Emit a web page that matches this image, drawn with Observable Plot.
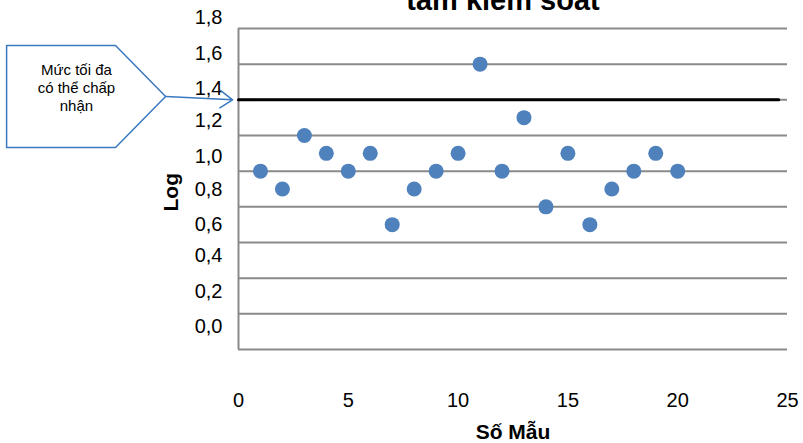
<!DOCTYPE html>
<html>
<head>
<meta charset="utf-8">
<script src="https://cdn.jsdelivr.net/npm/d3@7"></script>
<script src="https://cdn.jsdelivr.net/npm/@observablehq/plot@0.6"></script>
<style>
  html, body { margin: 0; padding: 0; background: #fff; overflow: hidden; }
</style>
</head>
<body>
<div id="chart"></div>
<script>
// ---- data ----
const sampleNo = [1, 2, 3, 4, 5, 6, 7, 8, 9, 10, 11, 12, 13, 14, 15, 16, 17, 18, 19, 20];
const logValues = [1.0, 0.9, 1.2, 1.1, 1.0, 1.1, 0.7, 0.9, 1.0, 1.1, 1.6, 1.0, 1.3, 0.8, 1.1, 0.7, 0.9, 1.0, 1.1, 1.0];
const limitValue = 1.4;
const limitXRange = [0, 24.6];
const yTicks = [0, 0.2, 0.4, 0.6, 0.8, 1.0, 1.2, 1.4, 1.6, 1.8];
const yTickLabels = ["0,0", "0,2", "0,4", "0,6", "0,8", "1,0", "1,2", "1,4", "1,6", "1,8"];
const xTicks = [0, 5, 10, 15, 20, 25];
const titleText = "tâm kiểm soát";
const xTitle = "Số Mẫu";
const yTitle = "Log";
const calloutText = "Mức tối đa\ncó thể chấp\nnhận";
// callout outline (data coordinates, outside the frame to the left)
const calloutX = [-10.56, -5.6, -3.32, -5.6, -10.56, -10.56];
const calloutY = [1.705, 1.705, 1.419, 1.133, 1.133, 1.705];

// ---- tables ----
const points = sampleNo.map((s, i) => ({x: s, y: logValues[i]}));
const limitLine = limitXRange.map(x => ({x, y: limitValue}));
const callout = calloutX.map((x, i) => ({x, y: calloutY[i]}));

const blue = "#4F81BD";
const grid = "#8a8a8a";
const fmtY = d => yTickLabels[yTicks.indexOf(d)];

// the reference's tick labels drift upward from their gridlines, more so lower down
const labelGroups = [
  {ticks: [yTicks[7], yTicks[8], yTicks[9]], dy: -11},
  {ticks: [yTicks[5], yTicks[6]], dy: -15},
  {ticks: [yTicks[3], yTicks[4]], dy: -17.5},
  {ticks: [yTicks[0], yTicks[1], yTicks[2]], dy: -22.5}
];

const chart = Plot.plot({
  width: 803,
  height: 443,
  marginLeft: 238,
  marginRight: 16,
  marginTop: 28,
  marginBottom: 94,
  x: {domain: [0, 25]},
  y: {domain: [0, 1.8]},
  style: {fontFamily: "'Liberation Sans', Arial, sans-serif", background: "#fff", color: "#000", overflow: "visible"},
  marks: [
    Plot.gridY(yTicks, {stroke: grid, strokeOpacity: 1, strokeWidth: 2}),
    Plot.ruleX([0], {stroke: grid, strokeWidth: 2}),
    ...labelGroups.map(g => Plot.axisY({ticks: g.ticks, tickFormat: fmtY, tickSize: 0, tickPadding: 16, fontSize: 20, dy: g.dy, label: null})),
    Plot.axisX({ticks: xTicks, tickSize: 0, tickPadding: 43, fontSize: 20, label: null}),
    Plot.line(limitLine, {x: "x", y: "y", stroke: "#000", strokeWidth: 3}),
    Plot.dot(points, {x: "x", y: "y", r: 7.5, fill: blue, stroke: "none"}),
    Plot.line(callout, {x: "x", y: "y", stroke: "#3a78c0", strokeWidth: 1.5, clip: false}),
    Plot.arrow([{x1: -3.32, y1: 1.419, x2: -0.27, y2: 1.4}], {x1: "x1", y1: "y1", x2: "x2", y2: "y2", stroke: "#3a78c0", strokeWidth: 1.5, headLength: 15, headAngle: 70}),
    Plot.text([calloutText], {x: -7.38, y: 1.469, text: d => d, fontSize: 15, lineHeight: 1.2, fill: "#000"}),
    Plot.text([titleText], {frameAnchor: "top", text: d => d, dx: -10, dy: -19, lineAnchor: "bottom", fontSize: 29, fontWeight: "bold"}),
    Plot.text([xTitle], {frameAnchor: "bottom", text: d => d, dy: 83, lineAnchor: "middle", fontSize: 21, fontWeight: "bold"}),
    Plot.text([yTitle], {frameAnchor: "left", text: d => d, dx: -67.5, dy: 22.5, rotate: -90, lineAnchor: "middle", fontSize: 21, fontWeight: "bold"})
  ]
});
document.getElementById("chart").appendChild(chart);
</script>
</body>
</html>
